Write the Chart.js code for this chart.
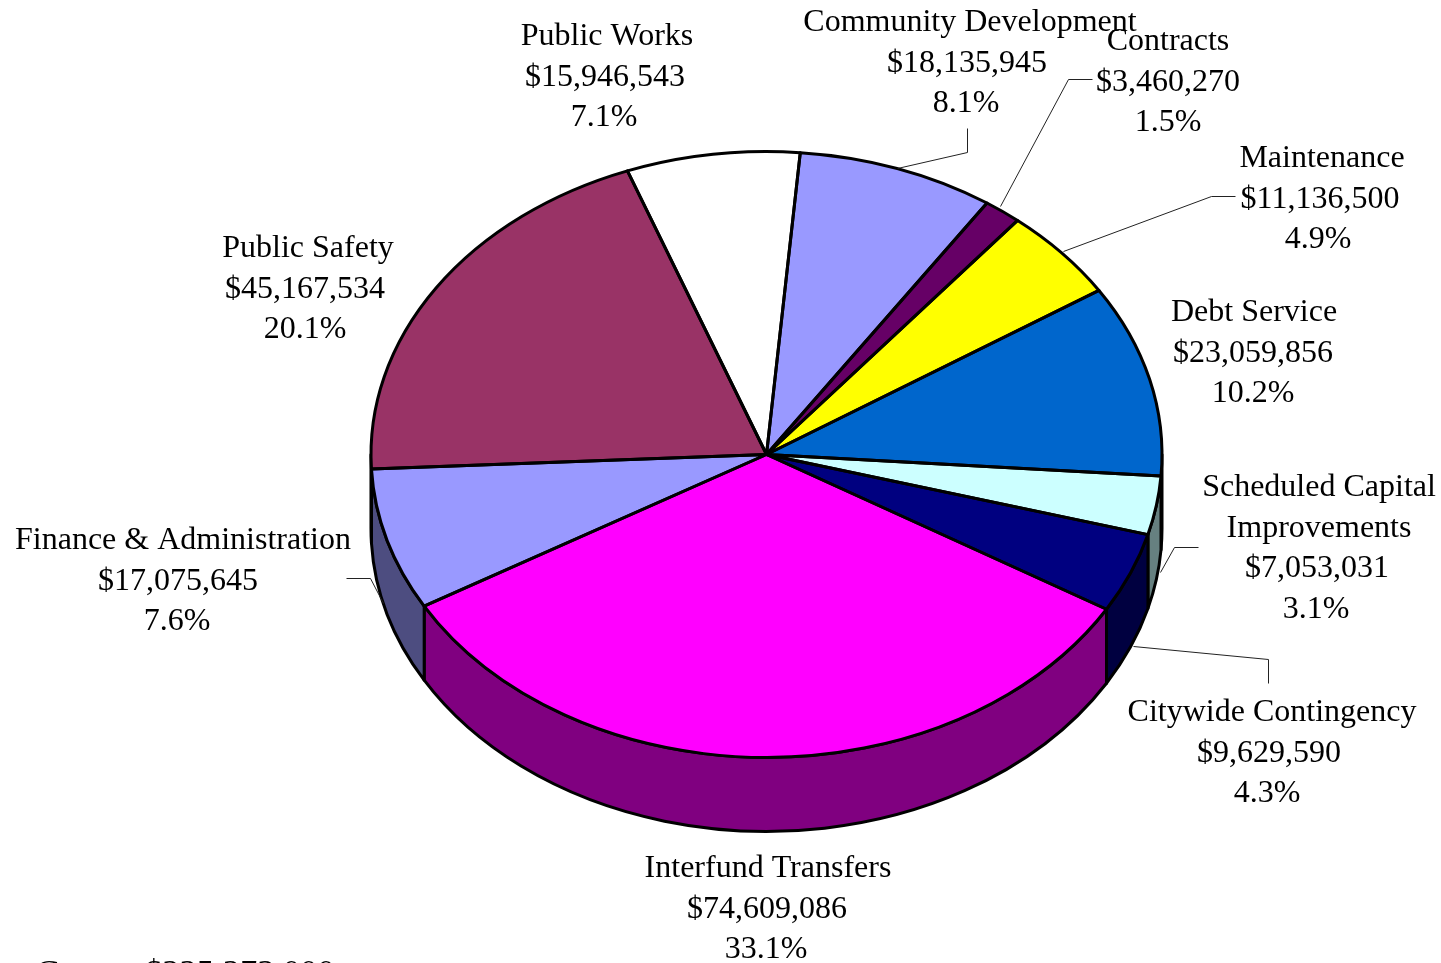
<!DOCTYPE html>
<html><head><meta charset="utf-8">
<style>html,body{margin:0;padding:0;background:#fff;overflow:hidden}canvas{display:block}#w{width:1441px;height:963px;position:relative}</style>
<script src="https://cdn.jsdelivr.net/npm/chart.js@4"></script>
</head><body><div id="w"><canvas id="c"></canvas></div>
<script>
const categories=["Community Development","Contracts","Maintenance","Debt Service","Scheduled Capital Improvements","Citywide Contingency","Interfund Transfers","Finance & Administration","Public Safety","Public Works"];
const amounts=[18135945,3460270,11136500,23059856,7053031,9629590,74609086,17075645,45167534,15946543];
const topColors=["#9999FF","#660066","#FFFF00","#0066CC","#CCFFFF","#000080","#FF00FF","#9999FF","#993366","#FFFFFF"];
const sideColors=["#4D4D80","#330033","#808000","#003366","#668080","#000040","#800080","#4D4D80","#4D1A33","#808080"];
const labelLines=[["Community Development","$18,135,945","8.1%"],["Contracts","$3,460,270","1.5%"],["Maintenance","$11,136,500","4.9%"],["Debt Service","$23,059,856","10.2%"],["Scheduled Capital","Improvements","$7,053,031","3.1%"],["Citywide Contingency","$9,629,590","4.3%"],["Interfund Transfers","$74,609,086","33.1%"],["Finance & Administration","$17,075,645","7.6%"],["Public Safety","$45,167,534","20.1%"],["Public Works","$15,946,543","7.1%"]];
const labelXs=[[970,967,966],[1168,1168,1168],[1322,1320,1318],[1254,1253,1253],[1319,1319,1317,1316],[1272,1269,1267],[768,767,766],[183,178,177],[308,305,305],[607,605,604]];
const labelTops=[23,42,159,313,488,713,869,541,249,37];
const leaders=[[[897,168],[967,152],[967,128]],[[1000,206],[1068,79],[1092,79]],[[1063,251],[1211,196],[1235,196]],null,[[1160,572],[1174,547],[1198,547]],[[1133,646],[1268,659],[1268,683]],null,[[383,603],[370,578],[346,578]],null,null];
const footWord="Gross";
const footAmount="$225,273,000";
const CX=766.5,CY=454.5,RX=395.5,SQUASH=0.766,DEPTH=74;
const FONT='32px "Liberation Serif"';
const FOOTFONT='34.5px "Liberation Serif"';

const pie3d={id:'pie3d',
 beforeDatasetDraw(chart){
  const ctx=chart.ctx,arcs=chart.getDatasetMeta(0).data;
  const ry=RX*SQUASH;
  const wall=(a,b,col)=>{
    ctx.beginPath();
    ctx.ellipse(CX,CY,RX,ry,0,a,b,false);
    ctx.ellipse(CX,CY+DEPTH,RX,ry,0,b,a,true);
    ctx.closePath();
    ctx.fillStyle=col;ctx.fill();
    ctx.lineWidth=3;ctx.strokeStyle='#000';ctx.lineJoin='round';ctx.stroke();
  };
  arcs.forEach((el,i)=>{
    const s=el.startAngle,e=el.endAngle;
    for(const k of [-1,0,1]){
      const a=Math.max(s,k*2*Math.PI),b=Math.min(e,k*2*Math.PI+Math.PI);
      if(b>a) wall(a,b,sideColors[i]);
    }
  });
  ctx.save();
  ctx.translate(CX,CY);ctx.scale(1,SQUASH);ctx.translate(-CX,-CY);
 },
 afterDatasetDraw(chart){
  const ctx=chart.ctx,arcs=chart.getDatasetMeta(0).data,ry=RX*SQUASH;
  ctx.restore();
  ctx.lineWidth=3;ctx.strokeStyle='#000';ctx.lineJoin='round';
  arcs.forEach(el=>{
    ctx.beginPath();ctx.moveTo(CX,CY);
    ctx.ellipse(CX,CY,RX,ry,0,el.startAngle,el.endAngle,false);
    ctx.closePath();ctx.stroke();
  });
 },
 afterDraw(chart){
  const ctx=chart.ctx;
  ctx.save();
  ctx.strokeStyle='#222';ctx.lineWidth=1;
  leaders.forEach(l=>{if(!l)return;ctx.beginPath();l.forEach((p,i)=>i?ctx.lineTo(p[0]+.5,p[1]+.5):ctx.moveTo(p[0]+.5,p[1]+.5));ctx.stroke();});
  ctx.fillStyle='#000';ctx.font=FONT;ctx.textAlign='center';ctx.textBaseline='middle';
  labelLines.forEach((ls,i)=>{
    ls.forEach((t,j)=>ctx.fillText(t,labelXs[i][j],labelTops[i]+j*40.5));
  });
  ctx.textAlign='left';ctx.textBaseline='alphabetic';ctx.font=FOOTFONT;
  ctx.fillText(footWord,36,983);
  ctx.fillText(footAmount,145,983);
  ctx.restore();
 }
};

new Chart(document.getElementById('c'),{
 type:'pie',
 data:{labels:categories,datasets:[{data:amounts,backgroundColor:topColors,borderWidth:0}]},
 options:{responsive:true,maintainAspectRatio:false,animation:false,rotation:4.9,
  layout:{padding:{left:CX-RX,right:1441-CX-RX,top:CY-RX,bottom:963-CY-RX}},
  plugins:{legend:{display:false},tooltip:{enabled:false}}},
 plugins:[pie3d]
});
</script></body></html>
